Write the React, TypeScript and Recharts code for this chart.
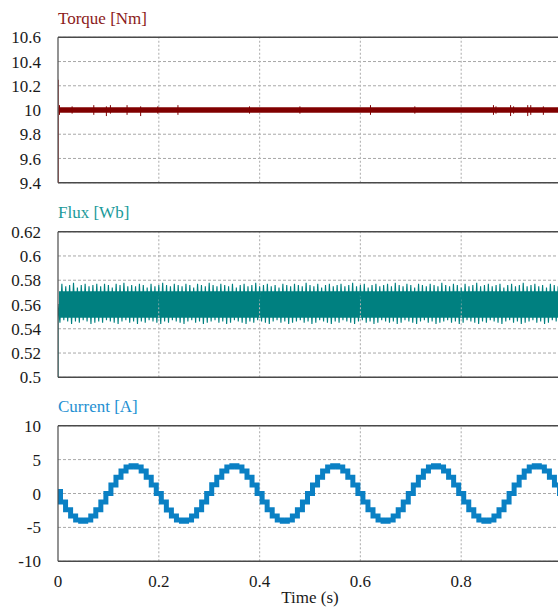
import React from 'react';
import { ComposedChart, Line, Area, XAxis, YAxis, CartesianGrid, ReferenceLine } from 'recharts';

// ---------- tick labels ----------
const timeTicks = [0, 0.2, 0.4, 0.6, 0.8];
const timeGridLines = [0.2, 0.4, 0.6, 0.8];
const torqueTicks = [9.4, 9.6, 9.8, 10, 10.2, 10.4, 10.6];
const fluxTicks = [0.5, 0.52, 0.54, 0.56, 0.58, 0.6, 0.62];
const currentTicks = [-10, -5, 0, 5, 10];

// ---------- torque ----------
const torqueTimes = [0.001, 0.05, 0.1, 0.15, 0.2, 0.25, 0.3, 0.35, 0.4, 0.45, 0.5, 0.55, 0.6, 0.65, 0.7, 0.75, 0.8, 0.85, 0.9, 0.95, 1.0];
const torqueValues = [10.0, 10.0, 10.0, 10.0, 10.0, 10.0, 10.0, 10.0, 10.0, 10.0, 10.0, 10.0, 10.0, 10.0, 10.0, 10.0, 10.0, 10.0, 10.0, 10.0, 10.0];
const torqueStartTimes = [0, 0];
const torqueStartValues = [10.25, 9.4];
const torqueSpikeTimes = [0.003, 0.028, 0.071, 0.096, 0.104, 0.137, 0.164, 0.198, 0.238, 0.38, 0.48, 0.62, 0.708, 0.864, 0.869, 0.898, 0.904, 0.932, 0.938, 0.963];
const torqueSpikeHigh = [10.04, 10.03, 10.04, 10.03, 10.04, 10.04, 10.03, 10.03, 10.04, 10.03, 10.03, 10.04, 10.03, 10.04, 10.03, 10.04, 10.03, 10.04, 10.04, 10.03];
const torqueSpikeLow = [9.96, 9.97, 9.96, 9.95, 9.97, 9.96, 9.95, 9.97, 9.96, 9.97, 9.97, 9.96, 9.97, 9.96, 9.97, 9.95, 9.97, 9.95, 9.96, 9.96];

// ---------- flux ----------
const FLUX_STEP = 1 / 260;
const fluxStartValues = [0.5, 0.56];
const fluxPeaks = [
  0.577, 0.575, 0.576, 0.578, 0.574, 0.576, 0.577, 0.575, 0.576, 0.577,
  0.575, 0.577, 0.576, 0.574, 0.577, 0.576, 0.578, 0.575, 0.576, 0.575,
  0.577, 0.576, 0.574, 0.577, 0.575, 0.576, 0.578, 0.576, 0.575, 0.577,
  0.576, 0.575, 0.577, 0.576, 0.574, 0.577, 0.576, 0.575, 0.578, 0.576,
  0.575, 0.577, 0.576, 0.575, 0.577, 0.574, 0.576, 0.577, 0.575, 0.576,
  0.578, 0.575, 0.576, 0.577, 0.575, 0.576, 0.574, 0.577, 0.576, 0.575,
  0.577, 0.576, 0.575, 0.578, 0.576, 0.575, 0.577, 0.574, 0.576, 0.577,
  0.575, 0.576, 0.577, 0.575, 0.576, 0.578, 0.575, 0.576, 0.577, 0.574,
  0.576, 0.577, 0.575, 0.576, 0.577, 0.575, 0.578, 0.576, 0.575, 0.577,
  0.576, 0.574, 0.577, 0.576, 0.575, 0.577, 0.576, 0.575, 0.578, 0.576,
  0.575, 0.577, 0.576, 0.574, 0.577, 0.575, 0.576, 0.578, 0.575, 0.576,
  0.577, 0.575, 0.576, 0.577, 0.574, 0.576, 0.577, 0.575, 0.576, 0.578,
  0.575, 0.576, 0.577, 0.575, 0.576, 0.574, 0.577, 0.576, 0.575, 0.577,
];
const fluxTroughs = [
  0.545, 0.547, 0.546, 0.544, 0.546, 0.545, 0.547, 0.546, 0.544, 0.545,
  0.546, 0.545, 0.547, 0.546, 0.545, 0.544, 0.546, 0.547, 0.545, 0.546,
  0.544, 0.546, 0.545, 0.547, 0.546, 0.545, 0.544, 0.546, 0.545, 0.547,
  0.546, 0.545, 0.544, 0.546, 0.547, 0.545, 0.546, 0.544, 0.545, 0.546,
  0.547, 0.545, 0.546, 0.544, 0.545, 0.547, 0.546, 0.545, 0.544, 0.546,
  0.545, 0.547, 0.546, 0.545, 0.544, 0.546, 0.547, 0.545, 0.546, 0.544,
  0.545, 0.546, 0.547, 0.545, 0.546, 0.544, 0.545, 0.547, 0.546, 0.545,
  0.544, 0.546, 0.545, 0.547, 0.546, 0.545, 0.544, 0.546, 0.547, 0.545,
  0.546, 0.544, 0.545, 0.547, 0.546, 0.545, 0.546, 0.544, 0.545, 0.547,
  0.546, 0.545, 0.544, 0.546, 0.547, 0.545, 0.546, 0.544, 0.545, 0.546,
  0.547, 0.545, 0.546, 0.544, 0.545, 0.547, 0.546, 0.545, 0.544, 0.546,
  0.545, 0.547, 0.546, 0.545, 0.544, 0.546, 0.547, 0.545, 0.546, 0.544,
  0.545, 0.546, 0.547, 0.545, 0.546, 0.544, 0.545, 0.547, 0.546, 0.545,
];
const fluxCoreTimes = [0.002, 1.0];
const fluxCoreLow = [0.549, 0.549];
const fluxCoreHigh = [0.571, 0.571];

// ---------- current ----------
const CURRENT_STEP = 0.01;
const currentValues = [
  0.3, -1.27, -2.41, -3.32, -3.9, -4.1, -3.9, -3.32, -2.41, -1.27,
  0.0, 1.27, 2.41, 3.32, 3.9, 4.1, 3.9, 3.32, 2.41, 1.27,
  0.0, -1.26, -2.42, -3.31, -3.91, -4.1, -3.9, -3.33, -2.4, -1.27,
  0.0, 1.28, 2.41, 3.32, 3.9, 4.1, 3.91, 3.32, 2.4, 1.27,
  0.0, -1.27, -2.41, -3.32, -3.9, -4.1, -3.9, -3.32, -2.41, -1.27,
  0.0, 1.27, 2.41, 3.32, 3.9, 4.1, 3.9, 3.32, 2.41, 1.27,
  0.0, -1.27, -2.41, -3.32, -3.9, -4.1, -3.9, -3.32, -2.41, -1.27,
  0.0, 1.27, 2.41, 3.32, 3.9, 4.1, 3.9, 3.32, 2.41, 1.27,
  0.0, -1.27, -2.41, -3.32, -3.9, -4.1, -3.9, -3.32, -2.41, -1.27,
  0.0, 1.27, 2.41, 3.32, 3.9, 4.1, 3.9, 3.32, 2.41, 1.27,
  0.0,
];

// ---------- tables built from the arrays ----------
const torqueData = torqueTimes.map((t, i) => ({ t, v: torqueValues[i] }));
const torqueStartData = torqueStartTimes.map((t, i) => ({ t, v: torqueStartValues[i] }));
const torqueSpikeData: { t: number; v: number | null }[] = [];
torqueSpikeTimes.forEach((t, i) => {
  torqueSpikeData.push({ t, v: torqueSpikeHigh[i] });
  torqueSpikeData.push({ t, v: torqueSpikeLow[i] });
  torqueSpikeData.push({ t, v: null });
});

const fluxData: { t: number; v: number }[] = fluxStartValues.map((v) => ({ t: 0, v }));
fluxTroughs.forEach((low, k) => {
  fluxData.push({ t: (2 * k + 1) * FLUX_STEP, v: low });
  fluxData.push({ t: (2 * k + 2) * FLUX_STEP, v: fluxPeaks[k] });
});
const fluxCoreData = fluxCoreTimes.map((t, i) => ({ t, band: [fluxCoreLow[i], fluxCoreHigh[i]] }));

const currentData = currentValues.map((v, i) => ({ t: Math.round(i * CURRENT_STEP * 100) / 100, v }));

// ---------- styling ----------
const FONT = "'Liberation Serif', 'Times New Roman', serif";
const CHART_W = 600;
const CHART_H = 607;
const RIGHT = 38;
const AXIS_W = 58;
const tickStyle = { fontSize: 17, fill: '#1a1a1a', fontFamily: FONT, style: { fontFamily: FONT } };
const GRID = '#a8a8a8';
const VGRID = '#b8b8b8';
const BORDER = '#4a4a4a';

const TORQUE_COLOR = '#800000';
const FLUX_COLOR = '#008080';
const CURRENT_COLOR = '#0a80c4';

function Panel({
  top,
  bottom,
  domain,
  ticks,
  showX,
  children,
}: {
  top: number;
  bottom: number;
  domain: [number, number];
  ticks: number[];
  showX: boolean;
  children: React.ReactNode;
}) {
  return (
    <div style={{ position: 'absolute', left: 0, top: 0 }}>
      <ComposedChart width={CHART_W} height={CHART_H} margin={{ top, bottom, left: 0, right: RIGHT }} style={{ fontFamily: FONT }}>
        <CartesianGrid stroke={GRID} strokeDasharray="3 2" vertical={false} />
        {timeGridLines.map((x) => (
          <ReferenceLine key={x} x={x} stroke={VGRID} strokeDasharray="2 2" strokeWidth={1.2} />
        ))}
        <XAxis
          type="number"
          dataKey="t"
          domain={[0, 1]}
          ticks={timeTicks}
          interval={0}
          allowDataOverflow
          height={showX ? 30 : 0}
          tick={showX ? tickStyle : false}
          tickLine={false}
          tickSize={0}
          tickMargin={14}
          axisLine={false}
        />
        <YAxis
          type="number"
          domain={domain}
          ticks={ticks}
          interval={0}
          allowDataOverflow
          width={AXIS_W}
          tick={tickStyle}
          tickLine={false}
          tickSize={0}
          tickMargin={17}
          axisLine={{ stroke: BORDER, strokeWidth: 1.2 }}
        />
        <ReferenceLine y={domain[1]} stroke={BORDER} strokeWidth={1.5} />
        <ReferenceLine y={domain[0]} stroke={BORDER} strokeWidth={1.5} />
        {children}
      </ComposedChart>
    </div>
  );
}

export default function App() {
  return (
    <div
      style={{
        position: 'fixed',
        left: 0,
        top: 0,
        width: 558,
        height: 607,
        overflow: 'hidden',
        background: '#ffffff',
        fontFamily: FONT,
      }}
    >
      <Panel top={37.3} bottom={424.3} domain={[9.4, 10.6]} ticks={torqueTicks} showX={false}>
        <Line data={torqueData} dataKey="v" type="linear" stroke={TORQUE_COLOR} strokeWidth={5.5} dot={false} isAnimationActive={false} />
        <Line data={torqueSpikeData} dataKey="v" type="linear" stroke={TORQUE_COLOR} strokeWidth={1} dot={false} connectNulls={false} isAnimationActive={false} />
        <Line data={torqueStartData} dataKey="v" type="linear" stroke="#b03030" strokeWidth={1.5} dot={false} isAnimationActive={false} />
      </Panel>
      <Panel top={231.7} bottom={229.7} domain={[0.5, 0.62]} ticks={fluxTicks} showX={false}>
        <Area data={fluxCoreData} dataKey="band" type="linear" stroke="none" fill={FLUX_COLOR} fillOpacity={1} isAnimationActive={false} />
        <Line data={fluxData} dataKey="v" type="linear" stroke={FLUX_COLOR} strokeWidth={1.1} dot={false} isAnimationActive={false} />
      </Panel>
      <Panel top={425.7} bottom={15.7} domain={[-10, 10]} ticks={currentTicks} showX={true}>
        <Line data={currentData} dataKey="v" type="step" stroke={CURRENT_COLOR} strokeWidth={5} dot={false} isAnimationActive={false} />
      </Panel>
      <svg width={558} height={607} style={{ position: 'absolute', left: 0, top: 0, pointerEvents: 'none', fontFamily: FONT }}>
        <text x={58} y={24} fontSize={17} style={{ fontFamily: FONT }} fill="#8b1a1a">Torque [Nm]</text>
        <text x={58} y={217.5} fontSize={17} style={{ fontFamily: FONT }} fill="#1a9a9a">Flux [Wb]</text>
        <text x={58} y={411.5} fontSize={17} style={{ fontFamily: FONT }} fill="#1e90d2">Current [A]</text>
        <text x={310} y={603} fontSize={17} style={{ fontFamily: FONT }} fill="#1a1a1a" textAnchor="middle">Time (s)</text>
      </svg>
    </div>
  );
}
